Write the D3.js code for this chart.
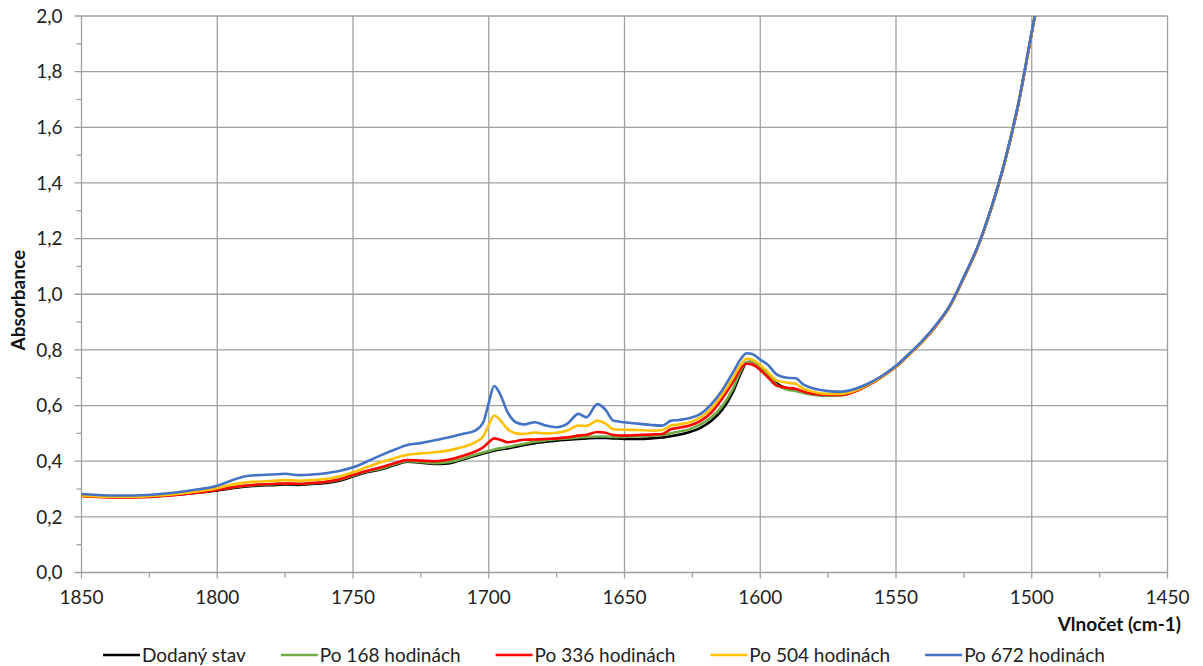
<!DOCTYPE html>
<html>
<head>
<meta charset="utf-8">
<script src="https://cdn.jsdelivr.net/npm/d3@7"></script>
<style>
html,body{margin:0;padding:0;background:#fff;}
svg{display:block;}
text{font-family:Lato,"Open Sans",sans-serif;}
</style>
</head>
<body>
<svg id="chart" width="1203" height="666"></svg>
<script>
const wavenumbers = [1850,1840,1830,1820,1810,1800,1795,1790,1785,1780,1775,1770,1765,1760,1755,1750,1745,1740,1735,1730,1725,1720,1715,1710,1705,1702,1700,1698,1696,1693,1690,1687,1683,1679,1675,1671,1667,1664,1660,1657,1654,1650,1645,1640,1636,1633,1630,1626,1622,1618,1614,1610,1607,1605,1603,1600,1597,1594,1590,1587,1584,1580,1575,1570,1565,1560,1555,1550,1545,1540,1535,1530,1525,1520,1515,1510,1505,1500,1495];

const dodany = [0.277,0.272,0.272,0.276,0.284,0.295,0.302,0.308,0.312,0.314,0.316,0.315,0.318,0.322,0.330,0.345,0.360,0.370,0.385,0.398,0.395,0.390,0.392,0.405,0.420,0.428,0.433,0.438,0.442,0.446,0.452,0.458,0.465,0.470,0.474,0.477,0.480,0.482,0.484,0.484,0.482,0.480,0.480,0.482,0.485,0.490,0.495,0.505,0.520,0.545,0.585,0.650,0.720,0.755,0.758,0.738,0.710,0.680,0.660,0.655,0.648,0.640,0.637,0.638,0.652,0.675,0.705,0.740,0.785,0.833,0.890,0.960,1.060,1.167,1.306,1.473,1.680,1.940,2.200];

const po168 = [0.277,0.272,0.272,0.277,0.286,0.298,0.305,0.311,0.315,0.317,0.319,0.318,0.321,0.325,0.333,0.348,0.363,0.373,0.388,0.400,0.397,0.393,0.396,0.408,0.423,0.431,0.437,0.442,0.446,0.451,0.457,0.463,0.470,0.475,0.479,0.482,0.485,0.487,0.489,0.489,0.487,0.487,0.490,0.492,0.494,0.500,0.506,0.515,0.532,0.558,0.598,0.662,0.728,0.755,0.755,0.733,0.705,0.675,0.657,0.652,0.645,0.638,0.636,0.637,0.651,0.674,0.704,0.740,0.785,0.833,0.890,0.960,1.060,1.167,1.306,1.473,1.680,1.940,2.200];

const po336 = [0.274,0.270,0.270,0.275,0.284,0.297,0.305,0.312,0.316,0.318,0.320,0.319,0.322,0.326,0.335,0.350,0.365,0.377,0.392,0.404,0.402,0.400,0.405,0.418,0.435,0.450,0.468,0.482,0.478,0.468,0.472,0.477,0.478,0.480,0.482,0.486,0.492,0.495,0.505,0.502,0.494,0.492,0.494,0.496,0.498,0.515,0.520,0.528,0.545,0.575,0.625,0.685,0.735,0.750,0.748,0.728,0.700,0.672,0.664,0.660,0.650,0.642,0.638,0.638,0.651,0.675,0.705,0.740,0.785,0.833,0.890,0.960,1.060,1.167,1.306,1.473,1.680,1.940,2.200];

const po504 = [0.276,0.272,0.272,0.278,0.288,0.303,0.315,0.323,0.327,0.329,0.332,0.330,0.332,0.336,0.345,0.360,0.378,0.395,0.410,0.423,0.428,0.432,0.438,0.450,0.468,0.490,0.530,0.564,0.550,0.515,0.500,0.498,0.503,0.500,0.502,0.510,0.528,0.527,0.546,0.535,0.515,0.513,0.512,0.510,0.512,0.528,0.532,0.540,0.558,0.590,0.640,0.700,0.750,0.768,0.765,0.745,0.718,0.690,0.682,0.678,0.660,0.648,0.642,0.642,0.654,0.677,0.706,0.741,0.786,0.834,0.891,0.961,1.061,1.168,1.307,1.474,1.681,1.941,2.200];

const po672 = [0.282,0.277,0.277,0.283,0.295,0.312,0.330,0.345,0.350,0.352,0.355,0.350,0.352,0.357,0.365,0.378,0.398,0.420,0.440,0.458,0.465,0.475,0.485,0.497,0.510,0.540,0.610,0.670,0.645,0.575,0.540,0.532,0.540,0.528,0.522,0.535,0.570,0.558,0.605,0.585,0.545,0.540,0.535,0.530,0.528,0.545,0.548,0.555,0.570,0.605,0.655,0.720,0.770,0.788,0.785,0.765,0.745,0.712,0.700,0.698,0.675,0.660,0.652,0.650,0.660,0.680,0.708,0.743,0.788,0.836,0.893,0.963,1.063,1.170,1.309,1.476,1.683,1.943,2.200];

const seriesNames = ["Dodaný stav","Po 168 hodinách","Po 336 hodinách","Po 504 hodinách","Po 672 hodinách"];
const seriesValues = [dodany, po168, po336, po504, po672];
const seriesColors = ["#000000","#70ad47","#ff0000","#ffc000","#4472c4"];

const xTicks = [1850,1800,1750,1700,1650,1600,1550,1500,1450];
const xMinorTicks = [1825,1775,1725,1675,1625,1575,1525,1475];
const yTicks = [0,0.2,0.4,0.6,0.8,1.0,1.2,1.4,1.6,1.8,2.0];
const yMinorTicks = [0.1,0.3,0.5,0.7,0.9,1.1,1.3,1.5,1.7,1.9];
const xTitle = "Vlnočet (cm-1)";
const yTitle = "Absorbance";

const svg = d3.select("#chart");
const L = 81.5, R = 1167.5, T = 16, B = 572.5;
const x = d3.scaleLinear().domain([1850,1450]).range([L,R]);
const y = d3.scaleLinear().domain([0,2]).range([B,T]);
const fmt = v => d3.format(".1f")(v).replace(".", ",");
const gridColor = "#a0a0a0";
const fs = 19;

// gridlines
svg.append("g").selectAll("line").data(yTicks.filter(d=>d>0)).join("line")
  .attr("x1",L-7).attr("x2",R).attr("y1",d=>y(d)).attr("y2",d=>y(d))
  .attr("stroke",gridColor).attr("stroke-width",1.3);
svg.append("g").selectAll("line").data(xTicks.filter(d=>d!==1850)).join("line")
  .attr("x1",d=>x(d)).attr("x2",d=>x(d)).attr("y1",T).attr("y2",B+6)
  .attr("stroke",gridColor).attr("stroke-width",1.3);
// minor ticks
svg.append("g").selectAll("line").data(yMinorTicks).join("line")
  .attr("x1",L-5).attr("x2",L).attr("y1",d=>y(d)).attr("y2",d=>y(d))
  .attr("stroke",gridColor).attr("stroke-width",1.3);
svg.append("g").selectAll("line").data(xMinorTicks).join("line")
  .attr("x1",d=>x(d)).attr("x2",d=>x(d)).attr("y1",B).attr("y2",B+5)
  .attr("stroke",gridColor).attr("stroke-width",1.3);
// axes lines
svg.append("line").attr("x1",L).attr("x2",L).attr("y1",T).attr("y2",B+6)
  .attr("stroke",gridColor).attr("stroke-width",1.3);
svg.append("line").attr("x1",L-7).attr("x2",R).attr("y1",B).attr("y2",B)
  .attr("stroke",gridColor).attr("stroke-width",1.3);

// tick labels
svg.append("g").selectAll("text").data(yTicks).join("text")
  .attr("x",L-19).attr("y",d=>y(d)).attr("dy","0.36em")
  .attr("text-anchor","end").attr("font-size",fs).attr("fill","#222")
  .text(fmt);
svg.append("g").selectAll("text").data(xTicks).join("text")
  .attr("x",d=>x(d)).attr("y",B+31)
  .attr("text-anchor","middle").attr("font-size",fs).attr("fill","#222")
  .text(d=>d);

// titles
svg.append("text").attr("transform",`translate(25,${(T+B)/2+6}) rotate(-90)`)
  .attr("text-anchor","middle").attr("font-size",fs).attr("font-weight","bold").attr("fill","#111")
  .text(yTitle);
svg.append("text").attr("x",1181).attr("y",631)
  .attr("text-anchor","end").attr("font-size",fs).attr("font-weight","bold").attr("fill","#111")
  .text(xTitle);

// clip
svg.append("clipPath").attr("id","clip").append("rect")
  .attr("x",L).attr("y",T).attr("width",R-L).attr("height",B-T);

const line = d3.line().x(d=>x(d[0])).y(d=>y(d[1])).curve(d3.curveMonotoneX);
const plot = svg.append("g").attr("clip-path","url(#clip)");
seriesValues.forEach((vals,i)=>{
  plot.append("path")
    .datum(wavenumbers.map((w,j)=>[w,vals[j]]))
    .attr("fill","none").attr("stroke",seriesColors[i])
    .attr("stroke-width",2.6).attr("stroke-linejoin","round")
    .attr("d",line);
});

// legend
const leg = svg.append("g");
let lx = 103;
const ly = 655;
seriesNames.forEach((name,i)=>{
  leg.append("line").attr("x1",lx).attr("x2",lx+37).attr("y1",ly).attr("y2",ly)
    .attr("stroke",seriesColors[i]).attr("stroke-width",2.6);
  const t = leg.append("text").attr("x",lx+39).attr("y",ly).attr("dy","0.35em")
    .attr("font-size",fs).attr("fill","#222").text(name);
  lx += 39 + t.node().getComputedTextLength() + 35;
});
</script>
</body>
</html>
